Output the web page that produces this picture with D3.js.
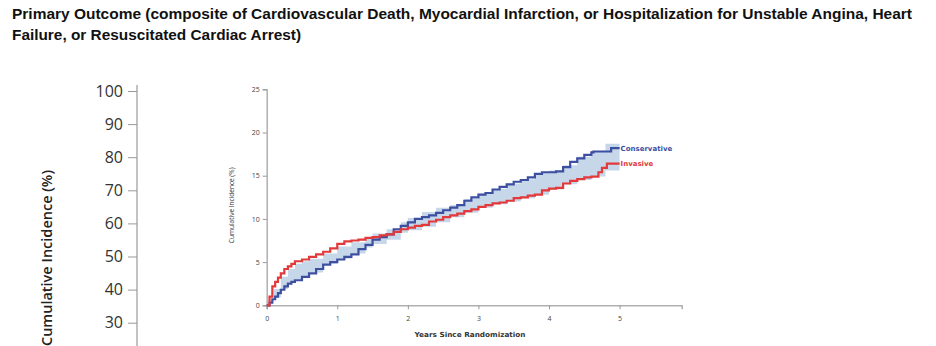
<!DOCTYPE html>
<html lang="en">
<head>
  <meta charset="UTF-8">
  <title>Primary Outcome</title>
  <script src="https://d3js.org/d3.v7.min.js"></script>
  <style>
    body { margin: 0; background: white; font-family: 'Open Sans', sans-serif; }
    svg { display: block; }
  </style>
</head>
<body>
  <div id="chart"></div>
  <script>
    // outer (background) axis ticks
    const outerTicks = [30, 40, 50, 60, 70, 80, 90, 100];

    // inner chart ticks
    const yTicks = [0, 5, 10, 15, 20, 25];
    const xTicks = [0, 1, 2, 3, 4, 5];

    // Invasive (red) step curve
    const invTime = [0, 0.04, 0.08, 0.12, 0.16, 0.2, 0.25, 0.3, 0.35, 0.4, 0.5, 0.6, 0.7, 0.8, 0.9, 1.0, 1.1, 1.2, 1.3, 1.4, 1.5, 1.6, 1.7, 1.8, 1.9, 2.0, 2.1, 2.2, 2.3, 2.4, 2.5, 2.6, 2.7, 2.8, 2.9, 3.0, 3.1, 3.2, 3.3, 3.4, 3.5, 3.6, 3.7, 3.8, 3.9, 4.0, 4.1, 4.2, 4.3, 4.4, 4.5, 4.6, 4.7, 4.75, 4.82, 5.0];
    const invVal  = [0, 1.0, 2.2, 2.7, 3.2, 3.7, 4.2, 4.5, 4.8, 5.1, 5.3, 5.6, 5.9, 6.2, 6.6, 7.1, 7.4, 7.5, 7.6, 7.8, 7.9, 8.1, 8.2, 8.5, 8.8, 9.0, 9.2, 9.3, 9.7, 9.9, 10.2, 10.4, 10.6, 10.9, 11.1, 11.4, 11.6, 11.8, 11.9, 12.1, 12.4, 12.5, 12.7, 12.8, 13.3, 13.5, 13.6, 14.1, 14.4, 14.6, 14.8, 14.9, 15.4, 15.9, 16.4, 16.4];

    // Conservative (blue) step curve
    const conTime = [0, 0.04, 0.08, 0.12, 0.16, 0.2, 0.25, 0.3, 0.35, 0.4, 0.5, 0.6, 0.7, 0.8, 0.9, 1.0, 1.1, 1.2, 1.3, 1.4, 1.5, 1.6, 1.7, 1.8, 1.9, 2.0, 2.1, 2.2, 2.3, 2.4, 2.5, 2.6, 2.7, 2.8, 2.9, 3.0, 3.1, 3.2, 3.3, 3.4, 3.5, 3.6, 3.7, 3.8, 3.9, 4.0, 4.1, 4.2, 4.3, 4.4, 4.5, 4.6, 4.63, 4.88, 5.0];
    const conVal  = [0, 0.3, 0.7, 1.0, 1.4, 1.8, 2.2, 2.5, 2.7, 2.9, 3.3, 3.7, 4.2, 4.7, 5.0, 5.3, 5.6, 5.9, 6.5, 7.0, 7.6, 7.9, 8.2, 8.8, 9.2, 9.6, 10.0, 10.2, 10.4, 10.7, 11.0, 11.3, 11.6, 12.1, 12.5, 12.8, 13.0, 13.4, 13.7, 14.0, 14.3, 14.5, 14.8, 15.2, 15.4, 15.4, 15.5, 16.0, 16.6, 17.0, 17.4, 17.7, 17.8, 18.2, 18.2];

    // shaded band
    const bandTime  = [0, 0.1, 0.2, 0.3, 0.4, 0.5, 0.6, 0.8, 1.0, 1.2, 1.4, 1.5, 1.7, 1.9, 2.0, 2.2, 2.4, 2.6, 2.8, 3.0, 3.2, 3.4, 3.6, 3.8, 4.0, 4.2, 4.4, 4.6, 4.8, 5.0];
    const bandLow   = [0, 0.9, 1.9, 2.6, 3.0, 3.4, 3.8, 4.8, 5.4, 6.0, 6.7, 7.1, 7.6, 8.4, 8.7, 9.1, 9.6, 10.2, 10.7, 11.3, 11.7, 12.0, 12.4, 12.8, 13.4, 14.0, 14.5, 14.9, 15.6, 15.6];
    const bandHigh  = [0, 1.9, 3.3, 4.2, 4.8, 5.1, 5.4, 6.0, 6.8, 7.3, 7.8, 8.3, 8.8, 9.6, 10.1, 10.8, 11.3, 11.6, 12.3, 12.9, 13.5, 14.1, 14.6, 15.3, 15.6, 16.2, 17.2, 17.9, 18.7, 18.8];

    const W = 936, H = 346;
    const svg = d3.select("#chart").append("svg").attr("width", W).attr("height", H);

    // title
    svg.append("text").attr("x", 12).attr("y", 19)
      .attr("font-family", "'Liberation Sans', Arial, sans-serif")
      .attr("font-weight", "bold").attr("font-size", 15).attr("fill", "#111")
      .attr("textLength", 900).attr("lengthAdjust", "spacingAndGlyphs")
      .text("Primary Outcome (composite of Cardiovascular Death, Myocardial Infarction, or Hospitalization for Unstable Angina, Heart");
    svg.append("text").attr("x", 12).attr("y", 40)
      .attr("font-family", "'Liberation Sans', Arial, sans-serif")
      .attr("font-weight", "bold").attr("font-size", 15).attr("fill", "#111")
      .attr("textLength", 289).attr("lengthAdjust", "spacingAndGlyphs")
      .text("Failure, or Resuscitated Cardiac Arrest)");

    // outer axis (large, cropped)
    const yOuter = d3.scaleLinear().domain([0, 100]).range([422, 91]);
    const gOuter = svg.append("g").attr("transform", "translate(137,0)")
      .call(d3.axisLeft(yOuter).tickValues(outerTicks).tickSize(9).tickPadding(5));
    gOuter.select(".domain").attr("d", "M0,85V346").attr("stroke", "#999").attr("stroke-width", 1.2);
    gOuter.selectAll(".tick line").attr("stroke", "#999");
    gOuter.selectAll(".tick text").attr("font-family", "'Open Sans', sans-serif")
      .attr("font-size", 16).attr("fill", "#333");

    svg.append("text")
      .attr("transform", "translate(52,170) rotate(-90)")
      .attr("text-anchor", "end")
      .attr("font-family", "'Open Sans', sans-serif").attr("font-weight", 600)
      .attr("font-size", 14.5).attr("fill", "#222")
      .text("Cumulative Incidence (%)");

    // inner chart
    const x = d3.scaleLinear().domain([0, 5.88]).range([266.7, 681.7]);
    const y = d3.scaleLinear().domain([0, 25]).range([305.3, 89.3]);

    const band = bandTime.map((t, i) => ({ t, lo: bandLow[i], hi: bandHigh[i] }));
    svg.append("path").datum(band)
      .attr("fill", "#c6d7ea")
      .attr("d", d3.area().curve(d3.curveStepAfter)
        .x(d => x(d.t)).y0(d => y(d.lo)).y1(d => y(d.hi)));

    const gx = svg.append("g").attr("transform", `translate(0,${y(0)})`)
      .call(d3.axisBottom(x).tickValues(xTicks).tickSize(4).tickPadding(7).tickFormat(d3.format("d")));
    const gy = svg.append("g").attr("transform", `translate(${x(0)},0)`)
      .call(d3.axisLeft(y).tickValues(yTicks).tickSize(4).tickPadding(3));
    [gx, gy].forEach(g => {
      g.select(".domain").attr("stroke", "#b0b0b0").attr("stroke-width", 1.5);
      g.selectAll(".tick line").attr("stroke", "#999");
      g.selectAll(".tick text").attr("font-family", "'Open Sans', sans-serif")
        .attr("font-size", 7).attr("fill", "#444");
    });

    svg.append("text")
      .attr("transform", `translate(234,${(y(0) + y(25)) / 2 + 8}) rotate(-90)`)
      .attr("text-anchor", "middle")
      .attr("font-family", "'Open Sans', sans-serif").attr("font-size", 6.5).attr("fill", "#333")
      .text("Cumulative Incidence (%)");

    svg.append("text").attr("x", 470).attr("y", 337).attr("text-anchor", "middle")
      .attr("font-family", "'DejaVu Sans', sans-serif").attr("font-weight", "bold")
      .attr("font-size", 7).attr("fill", "#333")
      .attr("textLength", 111).attr("lengthAdjust", "spacingAndGlyphs")
      .text("Years Since Randomization");

    const line = d3.line().curve(d3.curveStepAfter).x(d => x(d[0])).y(d => y(d[1]));
    const series = [
      { name: "Conservative", color: "#3d4fa1", t: conTime, v: conVal },
      { name: "Invasive", color: "#e2393b", t: invTime, v: invVal }
    ];
    series.forEach(s => {
      const pts = s.t.map((t, i) => [t, s.v[i]]);
      svg.append("path").datum(pts)
        .attr("fill", "none").attr("stroke", s.color).attr("stroke-width", 2.2)
        .attr("d", line);
      const last = pts[pts.length - 1];
      svg.append("text").attr("x", x(last[0]) + 1).attr("y", y(last[1]) + 2.5)
        .attr("font-family", "'DejaVu Sans', sans-serif").attr("font-weight", "bold")
        .attr("font-size", 7).attr("fill", s.color)
        .text(s.name);
    });
  </script>
</body>
</html>
